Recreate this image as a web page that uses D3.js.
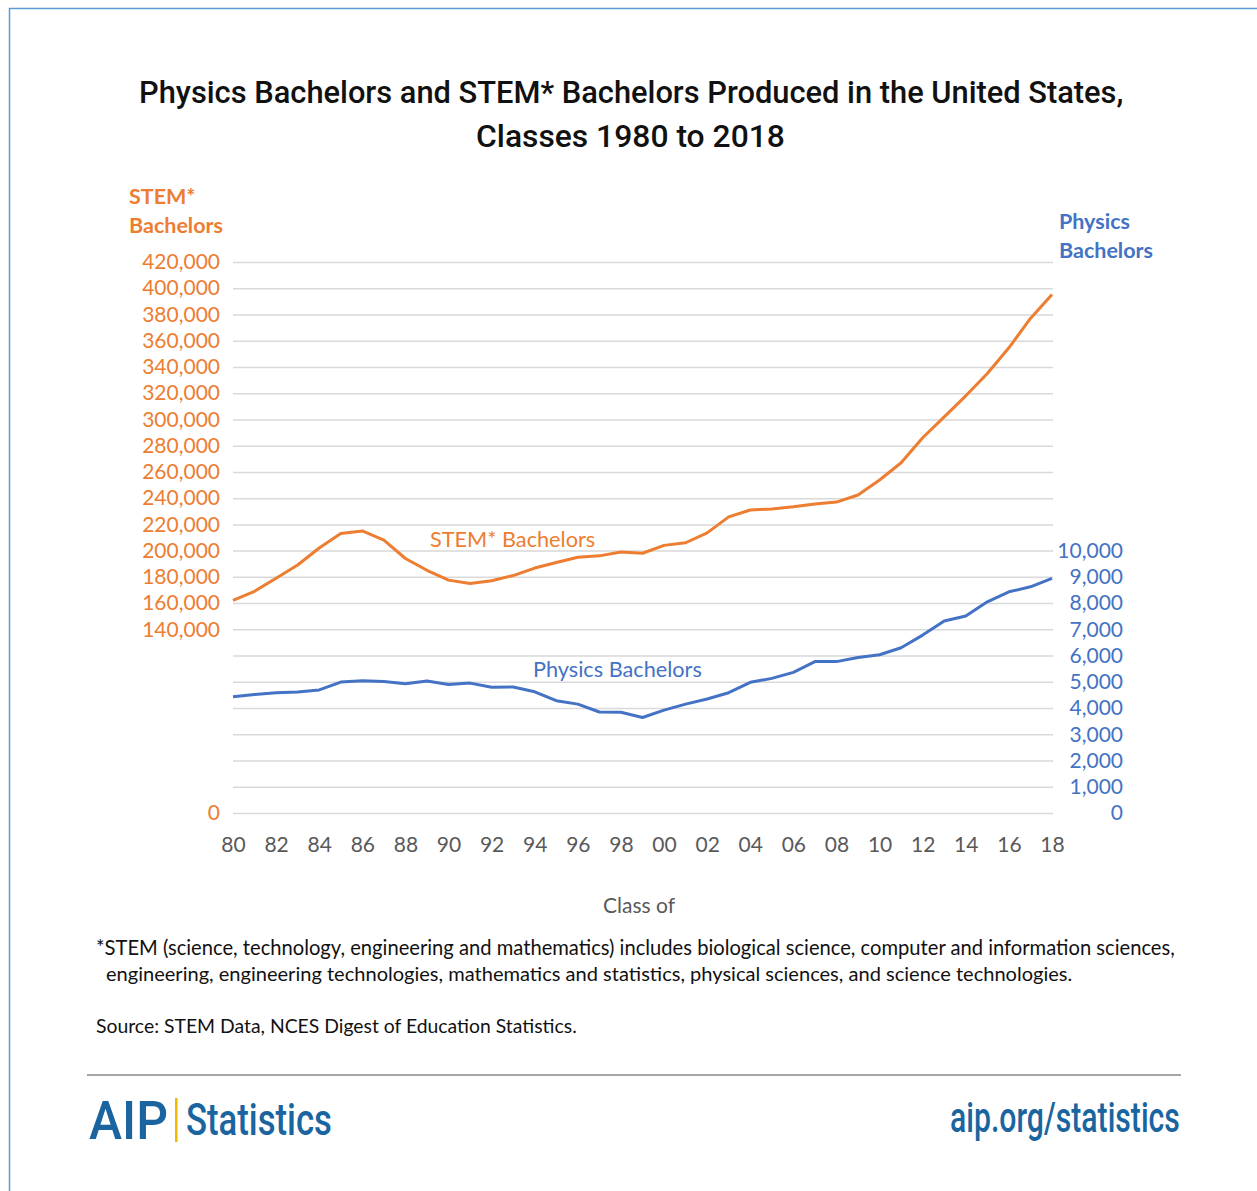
<!DOCTYPE html>
<html>
<head>
<meta charset="utf-8">
<script src="https://cdn.jsdelivr.net/npm/d3@7"></script>
<style>
  body { margin: 0; background: #fff; }
  svg { display: block; }
</style>
</head>
<body>
<div id="chart"></div>
<script>
// class years 1980..2018
const years = d3.range(1980, 2019);

// STEM bachelors (left axis)
const stemValues = [
  162000, 169000, 179000, 189000, 202000, 213000, 215000, 208000, 194000, 185000,
  177500, 175000, 177000, 181000, 186700, 191000, 195000, 196000, 199000, 198000,
  204000, 206000, 213500, 225700, 231000, 231700, 233400, 235500, 237000, 242400,
  253800, 267000, 286000, 302000, 318000, 335000, 354600, 377000, 395300
];

// physics bachelors (right axis)
const physicsValues = [
  4430, 4520, 4580, 4610, 4690, 4990, 5040, 5010, 4930, 5030,
  4900, 4950, 4790, 4800, 4620, 4280, 4150, 3850, 3840, 3640,
  3920, 4150, 4345, 4585, 4980, 5130, 5360, 5770, 5770, 5930,
  6030, 6300, 6780, 7320, 7510, 8050, 8430, 8620, 8940
];

const xTickValues = d3.range(1980, 2019, 2);
const leftTickValues = [0, 140000, 160000, 180000, 200000, 220000, 240000, 260000, 280000,
  300000, 320000, 340000, 360000, 380000, 400000, 420000];
const rightTickValues = d3.range(0, 10001, 1000);
const gridValues = d3.range(0, 420001, 20000);

const width = 1257;
const height = 1191;
const orange = '#ED7D31';
const blue = '#4472C4';
const gray = '#595959';

const svg = d3.select('#chart')
  .append('svg')
  .attr('width', width)
  .attr('height', height);

// frame
svg.append('rect')
  .attr('x', 9.5).attr('y', 8.5)
  .attr('width', 1300).attr('height', 1300)
  .attr('fill', 'none')
  .attr('stroke', '#5b9bd5')
  .attr('stroke-width', 1.5);

const plot = { left: 233, right: 1052, top: 262, bottom: 813 };

const xScale = d3.scaleLinear().domain([1980, 2018]).range([plot.left, plot.right]);
const yLeft = d3.scaleLinear().domain([0, 420000]).range([plot.bottom, plot.top]);
const yRight = d3.scaleLinear().domain([0, 21000]).range([plot.bottom, plot.top]);

// shrink/grow font size so that a text spans the wanted width
function fitText(sel, target, size) {
  sel.style('font-size', size + 'px');
  const w = sel.node().getComputedTextLength();
  sel.style('font-size', (size * target / w).toFixed(2) + 'px');
  return sel;
}

// keep the font size, squeeze the text sideways (condensed look)
function condense(x, y, txt, target, size, opts) {
  const sel = svg.append('text')
    .attr('fill', opts.fill)
    .style('font-family', opts.font)
    .style('font-weight', opts.weight || 'normal')
    .style('font-size', size + 'px')
    .text(txt);
  const w = sel.node().getComputedTextLength();
  sel.attr('transform', `translate(${x},${y}) scale(${(target / w).toFixed(4)},1)`);
  return sel;
}

// title
const titleOpts = { font: 'Roboto, sans-serif', weight: 500, fill: '#111' };
condense(139, 103, 'Physics Bachelors and STEM* Bachelors Produced in the United States,', 985, 32, titleOpts);
condense(476, 147, 'Classes 1980 to 2018', 309, 32, titleOpts);

// gridlines
svg.append('g')
  .attr('class', 'gridlines')
  .attr('transform', `translate(${plot.left}, 0)`)
  .call(d3.axisLeft(yLeft).tickValues(gridValues).tickFormat('').tickSize(-(plot.right - plot.left + 1)))
  .call(g => g.select('.domain').remove())
  .call(g => g.selectAll('line').attr('stroke', '#d9d9d9').attr('stroke-width', 1.5));

const labelFont = 'Lato, "Open Sans", sans-serif';

// left axis
svg.append('g')
  .attr('transform', 'translate(220, 0)')
  .call(d3.axisLeft(yLeft).tickValues(leftTickValues).tickSize(0).tickPadding(0)
    .tickFormat(d3.format(',')))
  .call(g => g.select('.domain').remove())
  .call(g => g.selectAll('text')
    .attr('fill', orange).style('font-family', labelFont).style('font-size', '21px')
    .attr('dy', '0.32em'));

// right axis
svg.append('g')
  .attr('transform', 'translate(1123, 0)')
  .call(d3.axisLeft(yRight).tickValues(rightTickValues).tickSize(0).tickPadding(0)
    .tickFormat(d3.format(',')))
  .call(g => g.select('.domain').remove())
  .call(g => g.selectAll('text')
    .attr('fill', blue).style('font-family', labelFont).style('font-size', '21px')
    .attr('dy', '0.32em'));

// x axis
svg.append('g')
  .attr('transform', `translate(0, ${plot.bottom})`)
  .call(d3.axisBottom(xScale).tickValues(xTickValues).tickSize(0).tickPadding(24)
    .tickFormat(d => String(d % 100).padStart(2, '0')))
  .call(g => g.select('.domain').remove())
  .call(g => g.selectAll('text')
    .attr('fill', gray).style('font-family', labelFont).style('font-size', '21px'));

// axis titles
const axisTitle = (x, y, txt, color) => svg.append('text')
  .attr('x', x).attr('y', y)
  .attr('fill', color)
  .style('font-family', labelFont).style('font-weight', 'bold').style('font-size', '21.5px')
  .text(txt);
axisTitle(129, 204, 'STEM*', orange);
axisTitle(129, 233, 'Bachelors', orange);
axisTitle(1059, 229, 'Physics', blue);
axisTitle(1059, 258, 'Bachelors', blue);

svg.append('text')
  .attr('x', 639).attr('y', 913)
  .attr('text-anchor', 'middle')
  .attr('fill', gray)
  .style('font-family', labelFont).style('font-size', '21px')
  .text('Class of');

// lines
const stemLine = d3.line()
  .x((d, i) => xScale(years[i]))
  .y(d => yLeft(d));
const physicsLine = d3.line()
  .x((d, i) => xScale(years[i]))
  .y(d => yRight(d));

svg.append('path')
  .datum(stemValues)
  .attr('d', stemLine)
  .attr('fill', 'none')
  .attr('stroke', orange)
  .attr('stroke-width', 3)
  .attr('stroke-linejoin', 'round');

svg.append('path')
  .datum(physicsValues)
  .attr('d', physicsLine)
  .attr('fill', 'none')
  .attr('stroke', blue)
  .attr('stroke-width', 3)
  .attr('stroke-linejoin', 'round');

// series labels
svg.append('text')
  .attr('x', 430).attr('y', 547)
  .attr('fill', orange)
  .style('font-family', labelFont).style('font-size', '21.7px')
  .text('STEM* Bachelors');
svg.append('text')
  .attr('x', 533).attr('y', 677)
  .attr('fill', blue)
  .style('font-family', labelFont).style('font-size', '21.7px')
  .text('Physics Bachelors');

// footnotes
const note = (x, y, len, txt) => fitText(svg.append('text')
  .attr('x', x).attr('y', y)
  .attr('fill', '#111')
  .style('font-family', labelFont)
  .text(txt), len, 18.5);
note(96, 955, 1079, '*STEM (science, technology, engineering and mathematics) includes biological science, computer and information sciences,');
note(106, 981, 967, 'engineering, engineering technologies, mathematics and statistics, physical sciences, and science technologies.');
note(96, 1033, 481, 'Source: STEM Data, NCES Digest of Education Statistics.');

// footer
svg.append('line')
  .attr('x1', 87).attr('x2', 1181)
  .attr('y1', 1075).attr('y2', 1075)
  .attr('stroke', '#a6a6a6').attr('stroke-width', 2);

const logoBlue = '#1a65a0';
condense(89, 1139, 'AIP', 79, 54, { font: 'Roboto, sans-serif', weight: 500, fill: logoBlue });
svg.append('rect')
  .attr('x', 175).attr('y', 1098)
  .attr('width', 2.5).attr('height', 44)
  .attr('fill', '#f5b800');
condense(186, 1135, 'Statistics', 146, 44, { font: 'Roboto, sans-serif', weight: 500, fill: logoBlue });
condense(950, 1132, 'aip.org/statistics', 230, 42, { font: 'Roboto, sans-serif', weight: 500, fill: logoBlue });
</script>
</body>
</html>
